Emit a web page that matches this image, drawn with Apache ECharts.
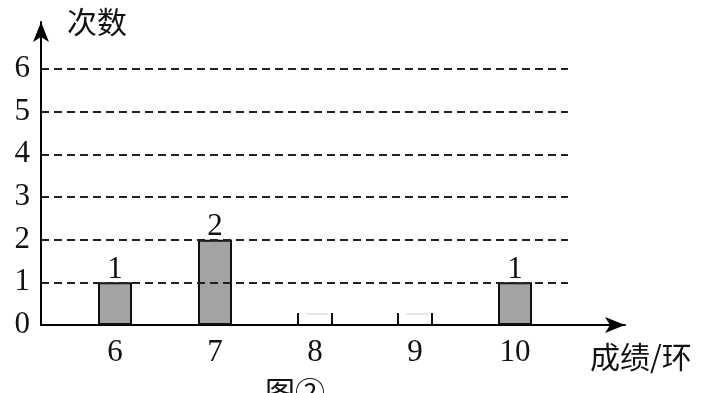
<!DOCTYPE html>
<html><head><meta charset="utf-8">
<script src="https://cdn.jsdelivr.net/npm/echarts@6/dist/echarts.min.js"></script>
<style>html,body{margin:0;padding:0;background:#fff}#c{width:718px;height:393px}</style>
</head><body><div id="c"></div>
<script>
const categories = [6, 7, 8, 9, 10];
const counts = [1, 2, null, null, 1];
const blankCategories = [8, 9];
const blankStub = 0.28;
const yTicks = [0, 1, 2, 3, 4, 5, 6];
const gridLines = [1, 2, 3, 4, 5, 6];
const xMin = 5.26, xMax = 11.1, dashEnd = 10.53;

const serif = '"Liberation Serif","DejaVu Serif",serif';
const cjk = '"Noto Sans CJK SC"';
const chart = echarts.init(document.getElementById('c'));
const barData = [];
categories.forEach((c, i) => { if (counts[i] != null) barData.push([c, counts[i]]); });

chart.setOption({
  animation: false,
  grid: { left: 41, right: 93, top: 22, bottom: 68, outerBoundsMode: 'none', containLabel: false },
  title: { text: '图②', left: 260, top: 372, textStyle: { fontFamily: cjk, fontSize: 30, fontWeight: 'normal', color: '#111' } },
  xAxis: {
    type: 'value', min: xMin, max: xMax,
    name: '成绩/环', nameLocation: 'end', nameGap: 0,
    nameTextStyle: { fontFamily: cjk, fontSize: 30, color: '#111', padding: [17, 0, 0, -35], align: 'left', verticalAlign: 'top' },
    axisLine: { show: true, symbol: ['none', 'arrow'], symbolSize: [12, 20], lineStyle: { color: '#000', width: 2 } },
    axisTick: { show: false },
    splitLine: { show: false },
    axisLabel: { customValues: categories, fontFamily: serif, fontSize: 31, color: '#111', margin: 12 }
  },
  yAxis: {
    type: 'value', min: 0, max: 7.1, interval: 1,
    name: '次数', nameLocation: 'end', nameGap: 0,
    nameTextStyle: { fontFamily: cjk, fontSize: 30, color: '#111', align: 'left', verticalAlign: 'middle', padding: [0, 0, -8, 26] },
    axisLine: { show: true, symbol: ['none', 'arrow'], symbolSize: [12, 20], lineStyle: { color: '#000', width: 2 } },
    axisTick: { show: false },
    splitLine: { show: false },
    axisLabel: { customValues: yTicks, fontFamily: serif, fontSize: 31, color: '#111', margin: 11 }
  },
  series: [
    {
      type: 'bar', data: barData, barWidth: 34,
      itemStyle: { color: '#a3a3a3', borderColor: '#111', borderWidth: 2 },
      label: { show: true, position: 'top', distance: -3, fontFamily: serif, fontSize: 31, color: '#111' },
      markLine: {
        silent: true, symbol: ['none', 'none'], label: { show: false },
        lineStyle: { color: '#222', type: [8, 5], width: 2 },
        data: gridLines.map(v => [{ coord: [xMin, v] }, { coord: [dashEnd, v] }])
      },
      z: 3
    },
    {
      type: 'custom',
      data: blankCategories.map(c => [c, blankStub]),
      renderItem: function (params, api) {
        const base = api.coord([api.value(0), 0]);
        const top = api.coord([api.value(0), api.value(1)]);
        const half = 17;
        const st = { stroke: '#111', lineWidth: 2 };
        return { type: 'group', children: [
          { type: 'line', shape: { x1: base[0] - half, y1: base[1], x2: base[0] - half, y2: top[1] }, style: st },
          { type: 'line', shape: { x1: base[0] + half, y1: base[1], x2: base[0] + half, y2: top[1] }, style: st },
          { type: 'line', shape: { x1: base[0] - half + 8, y1: top[1] + 1, x2: base[0] + half - 4, y2: top[1] + 1 }, style: { stroke: '#ccc', lineWidth: 1 } }
        ] };
      },
      z: 3
    }
  ]
});
</script></body></html>
